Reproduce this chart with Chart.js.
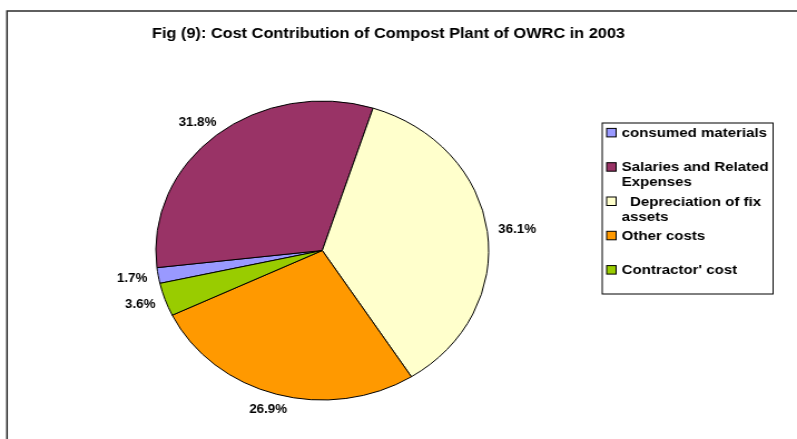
<!DOCTYPE html>
<html>
<head>
<meta charset="utf-8">
<title>Cost Contribution of Compost Plant</title>
<script src="https://cdn.jsdelivr.net/npm/chart.js@4.4.1/dist/chart.umd.min.js"></script>
<style>
html,body{margin:0;padding:0;background:#fff;overflow:hidden;}
</style>
</head>
<body>
<!-- drawn at 716 wide, shown 797 wide (the sheet is stretched sideways) -->
<canvas id="costChart" width="716" height="439" style="width:797px;height:439px;display:block;"></canvas>
<script>
// cost items in legend order (slices follow the same order clockwise)
var costItems = ['consumed materials', 'Salaries and Related Expenses', '  Depreciation of fix assets', 'Other costs', "Contractor' cost"];
var costShares = [1.7, 31.8, 36.1, 26.9, 3.6];
var sliceColors = ['#9999ff', '#993366', '#ffffcc', '#ff9900', '#99cc00'];
var chartTitle = 'Fig (9): Cost Contribution of Compost Plant of OWRC in 2003';

var FONT = '"Liberation Sans", Arial, sans-serif';

// wrap a legend entry into lines no wider than maxW
function wrapText(ctx, text, maxW){
	var lead = text.match(/^\s*/)[0];
	var words = text.trim().split(' ');
	var lines = [];
	var line = lead + words[0];
	for(var i=1;i<words.length;i++){
		var test = line + ' ' + words[i];
		if(ctx.measureText(test).width > maxW){
			lines.push(line);
			line = words[i];
		}else{
			line = test;
		}
	}
	lines.push(line);
	return lines;
}

// frame, title, percent labels and the boxed legend
var excelDecor = {
	id: 'excelDecor',
	beforeDraw: function(chart){
		var ctx = chart.ctx;
		ctx.save();
		ctx.fillStyle = '#fff';
		ctx.fillRect(0, 0, chart.width, chart.height);
		ctx.strokeStyle = '#2b2b2b';
		ctx.lineWidth = 1.5;
		ctx.beginPath();
		ctx.moveTo(6.3, chart.height + 2);
		ctx.lineTo(6.3, 11);
		ctx.lineTo(chart.width + 2, 11);
		ctx.stroke();
		ctx.restore();
	},
	afterDatasetsDraw: function(chart){
		var ctx = chart.ctx;
		var meta = chart.getDatasetMeta(0);
		var values = chart.data.datasets[0].data;
		var colors = chart.data.datasets[0].backgroundColor;
		ctx.save();

		// title
		ctx.fillStyle = '#000';
		ctx.font = 'bold 14.67px ' + FONT;
		ctx.textAlign = 'center';
		ctx.textBaseline = 'alphabetic';
		ctx.fillText(chartTitle, 349, 37.5);

		// percent labels just outside each slice
		ctx.font = 'bold 12px ' + FONT;
		ctx.textBaseline = 'middle';
		meta.data.forEach(function(arc, i){
			var p = arc.getProps(['x', 'y', 'startAngle', 'endAngle', 'outerRadius'], true);
			var mid = (p.startAngle + p.endAngle) / 2;
			var txt = values[i].toFixed(1) + '%';
			var hw = ctx.measureText(txt).width / 2, hh = 6;
			var c = Math.cos(mid), s = Math.sin(mid);
			ctx.fillText(txt, p.x + (p.outerRadius + 10) * c + hw * c, p.y + (p.outerRadius + 10) * s + hh * s);
		});

		// legend box
		var bx = 541, by = 123, bw = 153.5, bh = 171;
		ctx.strokeStyle = '#000';
		ctx.lineWidth = 1;
		ctx.strokeRect(bx, by, bw, bh);
		ctx.font = 'bold 13.5px ' + FONT;
		ctx.textAlign = 'left';
		var slot = 34.3, first = 132.7, lineH = 15;
		chart.data.labels.forEach(function(lbl, i){
			var cy = first + i * slot;
			ctx.fillStyle = colors[i];
			ctx.fillRect(545, cy - 4.3, 8.5, 8.5);
			ctx.strokeRect(545, cy - 4.3, 8.5, 8.5);
			ctx.fillStyle = '#000';
			var lines = wrapText(ctx, lbl, 134);
			lines.forEach(function(ln, j){
				ctx.fillText(ln, 558.5, cy + 0.5 + j * lineH);
			});
		});
		ctx.restore();
	}
};

var costChart = new Chart(document.getElementById('costChart'), {
	type: 'pie',
	data: {
		labels: costItems,
		datasets: [{
			data: costShares,
			backgroundColor: sliceColors,
			borderColor: '#000',
			borderWidth: 1,
			rotation: -102.7,
			radius: 149.5
		}]
	},
	options: {
		responsive: false,
		devicePixelRatio: 1,
		animation: false,
		layout: {
			padding: {left: 0, right: 137, top: 80, bottom: 18}
		},
		plugins: {
			legend: {display: false},
			tooltip: {enabled: false},
			title: {display: false}
		}
	},
	plugins: [excelDecor]
});
</script>
</body>
</html>
